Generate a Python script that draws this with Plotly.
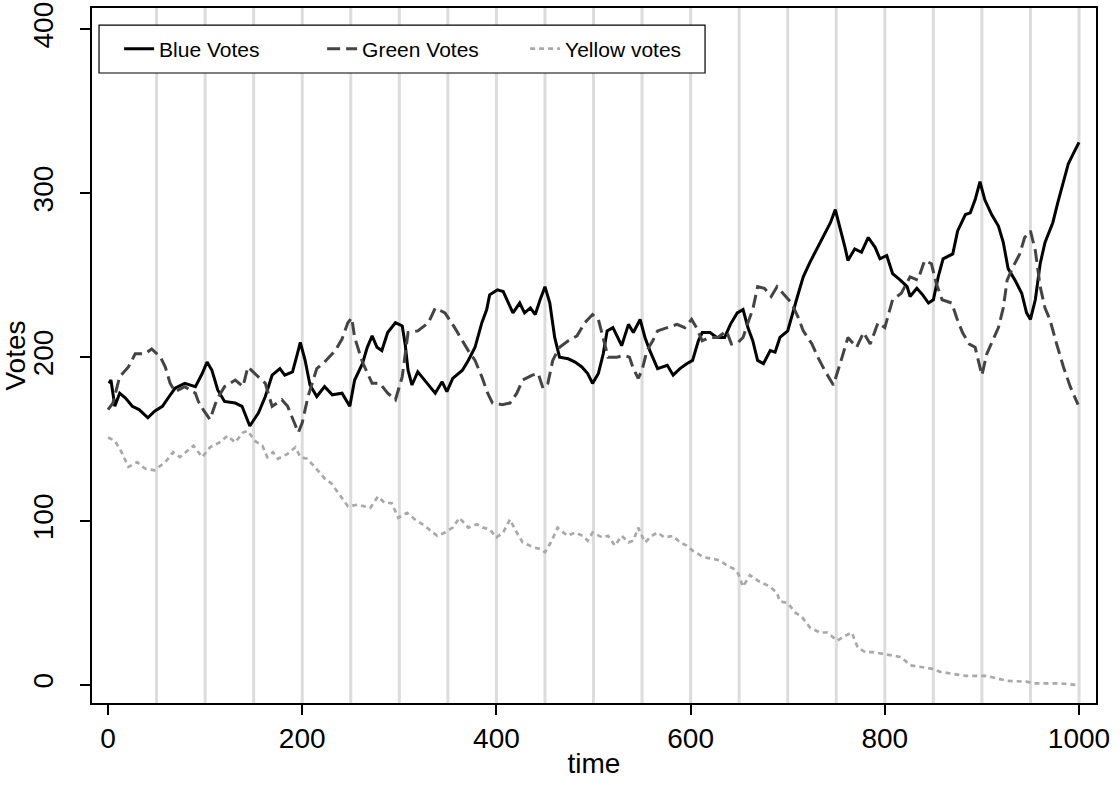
import plotly.graph_objects as go

# ---- data ----
blue_t = [1,3,7,12,18,25,32,41,48,56,63,69,79,90,97,102,107,113,120,131,138,146,155,162,169,177,182,190,195,198,203,208,215,223,231,241,249,254,262,267,272,277,282,288,296,303,306,309,313,319,326,337,344,349,355,365,371,378,385,390,393,401,407,412,417,424,429,435,440,445,450,455,460,465,474,481,488,494,499,505,510,514,520,529,536,541,548,553,558,566,576,582,589,596,602,608,612,620,627,635,641,648,654,659,664,669,675,682,687,692,700,710,716,723,730,736,744,749,754,759,762,769,776,783,790,795,802,808,816,823,826,833,839,845,850,855,860,870,875,883,888,893,898,903,910,917,922,927,934,941,946,950,955,960,965,973,978,984,989,994,1000]
blue_v = [184,186,170,178,175,170,168,163,167,170,176,181,184,182,190,197,192,180,173,172,170,158,166,176,189,193,189,191,202,209,198,183,176,182,177,178,170,186,196,206,213,206,204,215,221,219,208,192,183,191,186,178,185,179,187,192,198,206,221,229,238,241,240,234,227,233,227,230,226,235,243,233,212,200,199,197,194,190,184,190,202,216,218,207,220,215,223,212,204,193,195,189,193,196,198,210,215,215,212,212,220,227,229,218,210,198,196,204,203,212,216,237,249,258,266,273,282,290,279,267,259,266,264,273,267,260,262,251,247,243,237,242,238,233,235,249,260,263,277,287,288,296,307,296,287,280,270,254,247,239,227,223,235,257,270,282,294,308,318,324,331]

green_t = [0,5,12,21,28,38,45,54,59,64,69,79,90,93,98,105,112,120,131,139,144,155,162,169,179,185,196,200,206,215,223,234,241,247,251,254,262,272,280,288,296,303,309,319,330,337,347,357,365,371,378,385,391,396,406,414,421,427,437,443,448,453,458,465,474,483,491,499,505,510,515,524,532,537,541,546,550,555,561,566,576,586,594,601,606,612,620,628,637,642,649,654,659,664,669,676,683,689,695,704,711,716,725,731,738,747,754,762,771,778,785,793,800,808,817,826,834,841,848,853,859,869,874,880,887,893,900,905,911,917,922,926,932,939,944,950,955,960,965,970,977,984,991,999]
green_v = [168,172,188,194,202,202,205,200,194,184,179,182,178,173,168,162,174,182,186,182,194,188,184,170,174,170,154,160,176,193,197,204,211,221,224,212,197,184,184,178,174,188,215,216,221,230,227,218,210,204,198,188,178,172,171,172,178,186,189,190,181,184,198,206,210,213,221,226,223,212,200,200,201,200,193,187,192,204,210,216,218,220,218,223,218,210,212,212,216,208,209,212,221,229,243,242,237,243,239,233,224,216,208,200,192,183,196,212,206,215,208,221,218,235,239,249,247,259,257,245,235,233,224,215,208,206,189,202,210,218,230,247,255,263,273,277,265,243,230,223,208,194,182,171]

yellow_t = [0,7,14,21,30,38,48,59,67,74,88,97,105,115,123,131,139,144,151,159,164,170,175,185,193,198,205,213,223,230,241,247,257,270,278,285,292,299,308,316,324,330,339,347,355,362,371,380,386,393,400,407,414,419,427,438,445,450,457,463,473,481,489,494,499,509,515,522,529,536,541,546,553,560,566,573,582,589,596,602,613,622,630,637,644,649,654,661,671,682,689,692,700,708,714,723,733,741,751,759,766,772,780,788,798,811,817,826,836,848,857,870,884,905,916,926,946,953,980,998]
yellow_v = [151,149,142,133,136,132,131,136,142,139,146,139,145,148,152,148,154,155,149,146,139,142,138,141,145,139,138,133,126,123,114,109,110,108,115,111,111,102,105,101,98,95,91,93,96,102,96,98,96,95,90,93,101,95,87,84,83,81,88,96,91,93,91,88,93,90,91,85,91,87,88,96,87,91,93,90,91,87,85,82,78,77,76,73,71,68,60,67,63,60,56,51,50,44,42,35,32,32,27,30,32,23,20,20,19,18,17,12,11,10,8,7,5.5,5.5,4,2.5,2,1,1,0]

x_ticks = [0, 200, 400, 600, 800, 1000]
y_ticks = [0, 100, 200, 300, 400]
grid_x = [50, 100, 150, 200, 250, 300, 350, 400, 450, 500, 550, 600, 650, 700, 750, 800, 850, 900, 950, 1000]

FONT = "Liberation Sans, Arial, Helvetica, sans-serif"

fig = go.Figure()
fig.add_trace(go.Scatter(x=blue_t, y=blue_v, mode="lines", name="Blue Votes",
                         line=dict(color="#000000", width=3)))
fig.add_trace(go.Scatter(x=green_t, y=green_v, mode="lines", name="Green Votes",
                         line=dict(color="#444444", width=3, dash="13px,6px")))
fig.add_trace(go.Scatter(x=yellow_t, y=yellow_v, mode="lines", name="Yellow votes",
                         line=dict(color="#a9a9a9", width=2.7, dash="5px,4px")))

shapes = []
for gx in grid_x:
    shapes.append(dict(type="line", xref="x", yref="paper", x0=gx, x1=gx, y0=0, y1=1,
                       line=dict(color="#dcdcdc", width=3), layer="below"))
# legend box
shapes.append(dict(type="rect", xref="paper", yref="paper", x0=0.007, x1=0.6106,
                   y0=0.9065, y1=0.9755, fillcolor="white",
                   line=dict(color="black", width=1.2), layer="above"))

fig.update_layout(
    width=1120, height=785,
    margin=dict(l=92, r=24, t=8, b=82, autoexpand=False),
    paper_bgcolor="white", plot_bgcolor="white",
    font=dict(family=FONT, color="black"),
    shapes=shapes,
    showlegend=True,
    legend=dict(orientation="h", x=0.027, xanchor="left", y=0.941, yanchor="middle",
                bgcolor="rgba(0,0,0,0)", borderwidth=0,
                font=dict(size=21, family=FONT), entrywidth=158, entrywidthmode="pixels"),
    xaxis=dict(range=[-16.5, 1017.5], tickvals=x_ticks, ticks="outside", ticklen=10,
               tickwidth=1.5, tickcolor="black", showline=True, linecolor="black",
               linewidth=1.5, mirror=True, showgrid=False, zeroline=False, automargin=False,
               tickfont=dict(size=28), ticklabelstandoff=0,
               title=dict(text="time", font=dict(size=28), standoff=0)),
    yaxis=dict(range=[-11, 413], tickvals=y_ticks, ticks="outside", ticklen=10,
               tickwidth=1.5, tickcolor="black", showline=True, linecolor="black",
               linewidth=1.5, mirror=True, showgrid=False, zeroline=False, automargin=False,
               tickangle=-90, tickfont=dict(size=28), ticklabelstandoff=16,
               title=dict(text="Votes", font=dict(size=28), standoff=0)),
)

fig.write_html("out.html")
